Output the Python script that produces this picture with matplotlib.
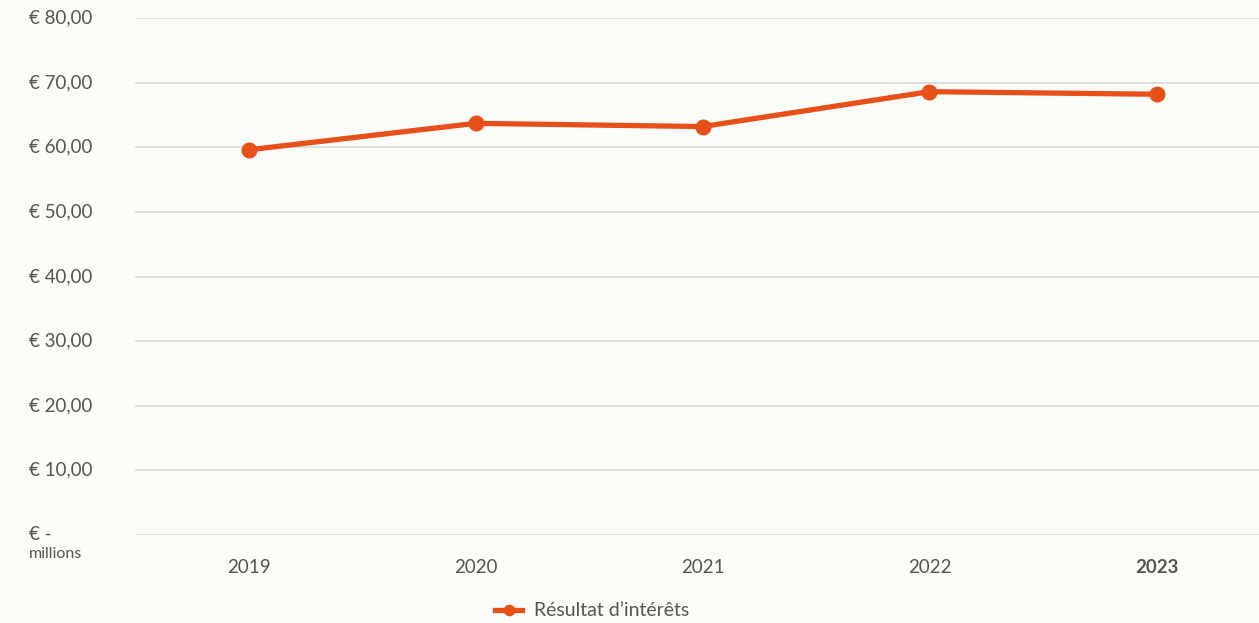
import matplotlib.pyplot as plt
import matplotlib.transforms as mtransforms

# Data
years = ['2019', '2020', '2021', '2022', '2023']
interest_result = [59.6, 63.7, 63.2, 68.6, 68.2]
y_ticks = [0, 10, 20, 30, 40, 50, 60, 70, 80]
y_labels = ['€ -', '€ 10,00', '€ 20,00', '€ 30,00', '€ 40,00',
            '€ 50,00', '€ 60,00', '€ 70,00', '€ 80,00']

orange = '#e8501a'
text_col = '#555555'
bg = '#fbfbf7'

plt.rcParams['font.family'] = ['Lato', 'DejaVu Sans']

W, H = 1259, 623
fig = plt.figure(figsize=(W / 100, H / 100), dpi=100, facecolor=bg)
ax = fig.add_axes([135 / W, 88 / H, (1270 - 135) / W, (535 - 18) / H])
ax.set_facecolor(bg)

x = list(range(len(years)))
ax.plot(x, interest_result, color=orange, lw=3.8, marker='o', ms=10.5,
        label='Résultat d\u2019intérêts', zorder=3)

ax.set_xlim(-0.5, len(years) - 0.5)
ax.set_ylim(0, 80)
ax.set_yticks(y_ticks)
ax.yaxis.grid(True, color='#d6d6d2', lw=1.1)
ax.tick_params(axis='y', length=0, labelleft=False)
ax.tick_params(axis='x', length=0, pad=17, labelsize=13.5, labelcolor=text_col)
ax.set_xticks(x)
ax.set_xticklabels(years)
ax.get_xticklabels()[-1].set_fontweight('bold')
for s in ax.spines.values():
    s.set_visible(False)

# y labels, left aligned at the figure edge
trans = mtransforms.blended_transform_factory(fig.transFigure, ax.transData)
for v, lab in zip(y_ticks, y_labels):
    ax.text(29 / W, v, lab, transform=trans, ha='left', va='center',
            fontsize=13.5, color=text_col)
ax.text(29 / W, -2.9, 'millions', transform=trans, ha='left', va='center',
        fontsize=11.5, color=text_col)

fig.legend(loc='center', bbox_to_anchor=(592 / W, 1 - 611 / H), frameon=False,
           fontsize=14, labelcolor=text_col, handlelength=1.4,
           handletextpad=0.6, markerscale=0.7)

fig.savefig('out.png', dpi=100, facecolor=bg)
